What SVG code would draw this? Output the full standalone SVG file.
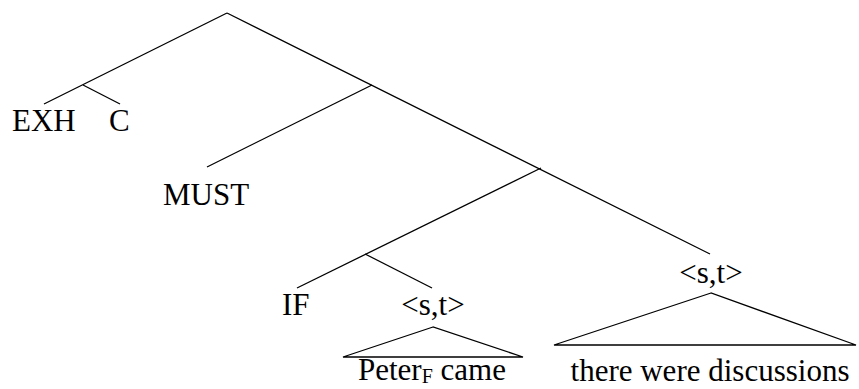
<svg xmlns="http://www.w3.org/2000/svg" width="859" height="389" viewBox="0 0 859 389">
<rect width="859" height="389" fill="#fff"/>
<g id="connectors" stroke="#000" stroke-width="1.3" fill="none">
<line x1="227" y1="13" x2="44" y2="104"/>
<line x1="83" y1="85" x2="120" y2="104"/>
<line x1="227" y1="13" x2="710" y2="254"/>
<line x1="372" y1="85" x2="207" y2="167"/>
<line x1="541" y1="168" x2="297" y2="288"/>
<line x1="365" y1="254" x2="432" y2="288"/>
</g>
<g id="exh"><text font-family="Liberation Serif" font-size="31" x="12" y="131">EXH</text></g>
<g id="c"><text font-family="Liberation Serif" font-size="31" x="109" y="131">C</text></g>
<g id="must"><text font-family="Liberation Serif" font-size="31" x="163" y="205">MUST</text></g>
<g id="if"><text font-family="Liberation Serif" font-size="31" x="282" y="315">IF</text></g>
<g id="st-left"><text font-family="Liberation Serif" font-size="31" text-anchor="middle" x="433" y="315">&lt;s,t&gt;</text></g>
<g id="st-right"><text font-family="Liberation Serif" font-size="31" text-anchor="middle" x="711" y="283">&lt;s,t&gt;</text></g>
<g id="tri-left">
<path d="M433 327 L343 357 L523 357 Z" stroke="#000" stroke-width="1.3" fill="none"/>
<text font-family="Liberation Serif" font-size="31" x="358" y="380">Peter<tspan font-size="20" dy="3">F</tspan><tspan dy="-3"> came</tspan></text>
</g>
<g id="tri-right">
<path d="M711 293 L554 345 L856 345 Z" stroke="#000" stroke-width="1.3" fill="none"/>
<text font-family="Liberation Serif" font-size="31" text-anchor="middle" x="710" y="381">there were discussions</text>
</g>
</svg>
